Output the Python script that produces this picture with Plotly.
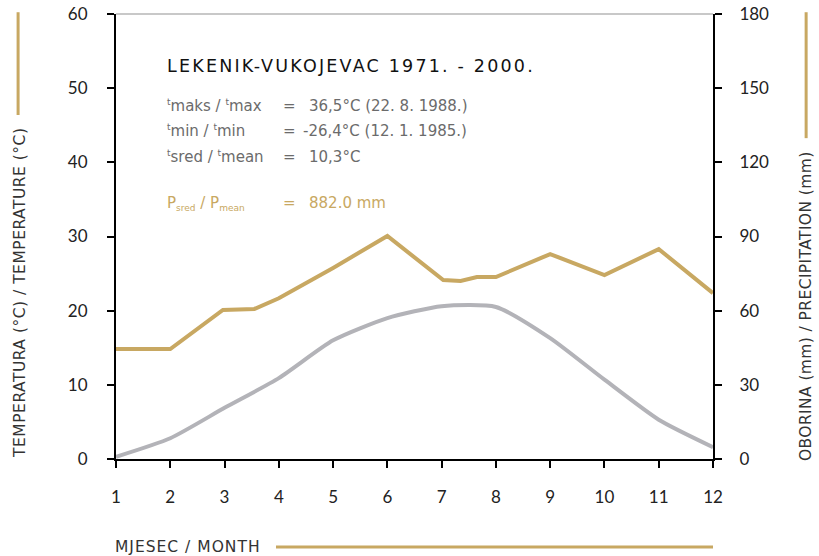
import plotly.graph_objects as go

# mjeseci / months
months = [1, 2, 3, 4, 5, 6, 7, 8, 9, 10, 11, 12]
temp_mean = [0.3, 2.8, 6.9, 10.9, 16.0, 19.0, 20.6, 20.5, 16.3, 10.7, 5.3, 1.6]

# oborina (mm) - line has a few extra vertices between months
precip_x = [1, 2, 2.97, 3.55, 4, 5, 6, 7.03, 7.35, 7.65, 8, 9, 10, 11, 12]
precip_mm = [44.5, 44.5, 60.3, 60.7, 65.0, 77.3, 90.2, 72.4, 72.0, 73.6, 73.6, 82.9, 74.4, 84.9, 67.1]

temp_ticks = [0, 10, 20, 30, 40, 50, 60]
precip_ticks = [0, 30, 60, 90, 120, 150, 180]

GOLD = "#C8A862"
GREY = "#B3B3B8"
TXT = "#6b6b6b"
FONT = "Lato"
FONT2 = "DejaVu Sans"

fig = go.Figure()

fig.add_trace(go.Scatter(
    x=months, y=temp_mean, mode="lines",
    line=dict(color=GREY, width=4, shape="spline", smoothing=0.6),
    name="temperatura", yaxis="y"
))
fig.add_trace(go.Scatter(
    x=precip_x, y=precip_mm, mode="lines",
    line=dict(color=GOLD, width=4),
    name="oborina", yaxis="y2"
))

axis_common = dict(
    showgrid=False, zeroline=False, showline=True, linecolor="black", linewidth=2,
    ticks="outside", ticklen=7, tickwidth=2, tickcolor="black", automargin=False,
    ticklabeloverflow="allow",
    tickfont=dict(family=FONT, size=17, color="#222"),
)

fig.update_layout(
    width=819, height=556,
    margin=dict(l=116, r=106, t=14, b=97),
    paper_bgcolor="white", plot_bgcolor="white",
    showlegend=False,
    xaxis=dict(range=[1, 12], tickvals=months, ticklabelstandoff=15, **axis_common),
    yaxis=dict(range=[0, 60], tickvals=temp_ticks, ticklabelstandoff=16, **axis_common),
    yaxis2=dict(range=[0, 180], tickvals=precip_ticks, overlaying="y", side="right",
                ticklabelstandoff=14, **axis_common),
)

# grey top border
fig.add_shape(type="line", xref="paper", yref="paper", x0=0, x1=1, y0=1, y1=1,
              line=dict(color="#c8c8c8", width=2), layer="below")

# decorative gold lines next to axis titles
fig.add_shape(type="line", xref="paper", yref="paper", x0=-0.164, x1=-0.164, y0=1.004, y1=0.773,
              line=dict(color=GOLD, width=3))
fig.add_shape(type="line", xref="paper", yref="paper", x0=1.156, x1=1.156, y0=1.004, y1=0.721,
              line=dict(color=GOLD, width=3))
fig.add_shape(type="line", xref="paper", yref="paper", x0=0.268, x1=1.0, y0=-0.198, y1=-0.198,
              line=dict(color=GOLD, width=3))


def spaced(s, px):
    return f"<span style='letter-spacing:{px}px'>{s}</span>"


ann = []
ann.append(dict(text=spaced("TEMPERATURA (°C) / TEMPERATURE (°C)", 0.5), x=-0.161, y=0.373, textangle=-90,
                xanchor="center", font=dict(family=FONT2, size=15.5, color="#333")))
ann.append(dict(text=spaced("OBORINA (mm) / PRECIPITATION (mm)", 0.4), x=1.156, y=0.344, textangle=-90,
                xanchor="center", font=dict(family=FONT2, size=15.5, color="#333")))
ann.append(dict(text=spaced("MJESEC / MONTH", 1), x=-0.005, y=-0.198, xanchor="left",
                font=dict(family=FONT2, size=15.5, color="#333")))
ann.append(dict(text=spaced("LEKENIK-VUKOJEVAC 1971. - 2000.", 2.2), x=0.082, y=0.883, xanchor="left",
                font=dict(family=FONT2, size=17.5, color="#111")))

SUP = "<sup><span style='font-size:9px'>t</span></sup>"
rows = [
    (SUP + "maks / " + SUP + "max", "36,5°C (22. 8. 1988.)", 0.793, TXT, 0.320),
    (SUP + "min / " + SUP + "min", "-26,4°C (12. 1. 1985.)", 0.737, TXT, 0.310),
    (SUP + "sred / " + SUP + "mean", "10,3°C", 0.679, TXT, 0.320),
    ("P<sub><span style='font-size:9px'>sred</span></sub> / P<sub><span style='font-size:9px'>mean</span></sub>",
     "882.0 mm", 0.575, GOLD, 0.320),
]
for lab, val, yy, col, vx in rows:
    ann.append(dict(text=lab, x=0.082, y=yy, xanchor="left", font=dict(family=FONT2, size=15, color=col)))
    ann.append(dict(text="=", x=0.276, y=yy, xanchor="left", font=dict(family=FONT2, size=15, color=col)))
    ann.append(dict(text=val, x=vx, y=yy, xanchor="left", font=dict(family=FONT2, size=15, color=col)))

for a in ann:
    # auto anchoring would pin texts by their top/bottom edge; centre them instead
    a.update(xref="paper", yref="paper", showarrow=False, yanchor="middle")
fig.update_layout(annotations=ann)

# drop the default 8px page margin so the figure fills the window exactly
fig.write_html("out.html", config={"displayModeBar": False},
               post_script="document.body.style.margin='0';")
